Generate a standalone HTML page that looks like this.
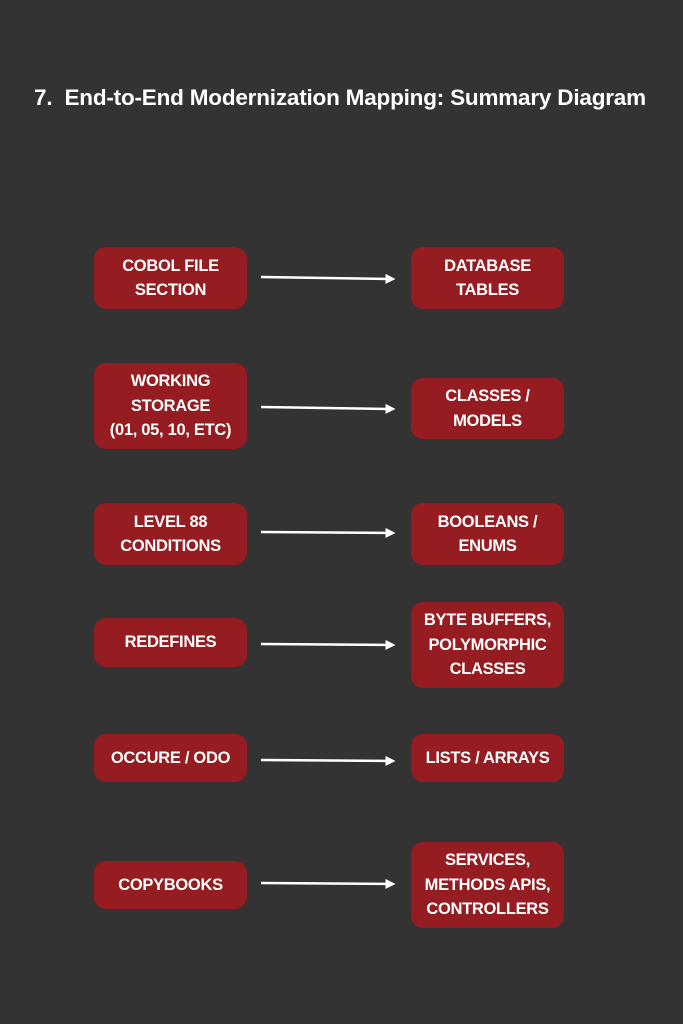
<!DOCTYPE html>
<html><head><style>
html,body{margin:0;padding:0;}
body{width:683px;height:1024px;background:#333333;position:relative;overflow:hidden;font-family:"Liberation Sans",sans-serif;}
.t{position:absolute;left:34px;top:85px;color:#fff;font-weight:bold;font-size:22.5px;letter-spacing:-0.2px;white-space:nowrap;}
.b{position:absolute;background:#951c20;border-radius:12px;color:#fff;font-weight:bold;font-size:16.5px;line-height:24.5px;display:flex;align-items:center;justify-content:center;text-align:center;letter-spacing:-0.3px;}
.l{left:94px;width:153px;}
.r{left:411px;width:153px;}
svg{position:absolute;left:0;top:0;}
</style></head><body>
<div class="t">7.&nbsp; End-to-End Modernization Mapping: Summary Diagram</div>
<div class="b l" style="top:247px;height:62px">COBOL FILE<br>SECTION</div>
<div class="b r" style="top:247px;height:62px">DATABASE<br>TABLES</div>
<div class="b l" style="top:363px;height:86px">WORKING<br>STORAGE<br>(01, 05, 10, ETC)</div>
<div class="b r" style="top:378px;height:61px">CLASSES /<br>MODELS</div>
<div class="b l" style="top:503px;height:62px">LEVEL 88<br>CONDITIONS</div>
<div class="b r" style="top:503px;height:62px">BOOLEANS /<br>ENUMS</div>
<div class="b l" style="top:618px;height:49px">REDEFINES</div>
<div class="b r" style="top:602px;height:86px">BYTE BUFFERS,<br>POLYMORPHIC<br>CLASSES</div>
<div class="b l" style="top:734px;height:48px">OCCURE / ODO</div>
<div class="b r" style="top:734px;height:48px">LISTS / ARRAYS</div>
<div class="b l" style="top:861px;height:48px">COPYBOOKS</div>
<div class="b r" style="top:842px;height:86px">SERVICES,<br>METHODS APIS,<br>CONTROLLERS</div>
<svg width="683" height="1024">
<defs><marker id="a" markerWidth="4" markerHeight="4" refX="3" refY="2" orient="auto" markerUnits="strokeWidth"><path d="M0,0 L4,2 L0,4z" fill="#fff"/></marker></defs>
<g stroke="#fff" stroke-width="2.5" fill="none" marker-end="url(#a)">
<line x1="261" y1="277" x2="393" y2="279"/>
<line x1="261" y1="407" x2="393" y2="409"/>
<line x1="261" y1="532" x2="393" y2="533"/>
<line x1="261" y1="644" x2="393" y2="645"/>
<line x1="261" y1="760" x2="393" y2="761"/>
<line x1="261" y1="883" x2="393" y2="884"/>
</g></svg>
</body></html>
